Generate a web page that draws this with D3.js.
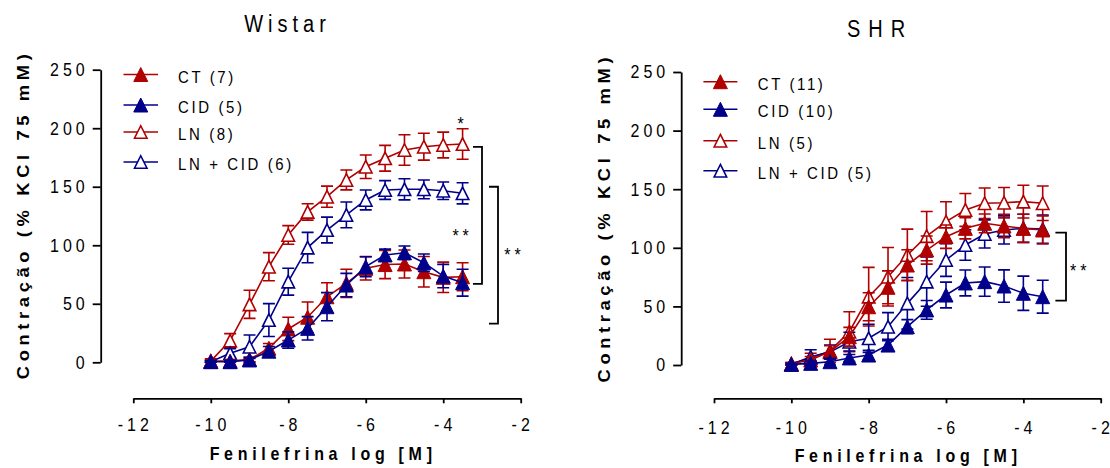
<!DOCTYPE html>
<html>
<head>
<meta charset="utf-8">
<script src="https://cdn.jsdelivr.net/npm/d3@7"></script>
<style>
  body { margin: 0; background: #fff; }
  svg { display: block; }
  text { font-family: "Liberation Sans", Arial, sans-serif; fill: #000; }
</style>
</head>
<body>
<svg id="chart" width="1110" height="468"></svg>
<script>
// ---- data -------------------------------------------------------------
const doses = [-10, -9.5, -9, -8.5, -8, -7.5, -7, -6.5, -6, -5.5, -5, -4.5, -4, -3.5];
const xTicks = [-12, -10, -8, -6, -4, -2];
const yTicks = [0, 50, 100, 150, 200, 250];

// Wistar
const wistarCT       = [1, 1, 2.5, 12, 28.5, 38.5, 56, 67.5, 80.3, 83.5, 84, 77.4, 72.6, 73.1];
const wistarCTsem    = [1, 1, 2, 4, 10, 13, 12, 12, 10, 12, 12, 13, 13, 12];
const wistarCID      = [0.5, 0.5, 2, 9.5, 19, 29, 47.5, 66, 81.7, 91.7, 93.6, 85.1, 73.7, 68];
const wistarCIDsem   = [1, 1, 2, 4, 7, 10, 12, 10, 8.5, 5, 5.8, 7.4, 10, 11.5];
const wistarLN       = [1, 18.5, 49.5, 81.7, 108.8, 128.5, 141.5, 155.8, 167.1, 174.3, 181.4, 184.2, 185.7, 186.5];
const wistarLNsem    = [2, 6, 12, 12, 8, 7, 9, 8.5, 10, 11, 13, 11.5, 11, 13];
const wistarLNCID    = [0.5, 7.7, 13.3, 36.1, 68.9, 98, 113, 125.9, 138.7, 147.2, 147.8, 147.8, 146.6, 144.4];
const wistarLNCIDsem = [1, 4, 10, 14, 11.5, 13, 11, 11, 8.5, 8, 9, 8, 7.5, 9];
const wistarLegend   = ["CT (7)", "CID (5)", "LN (8)", "LN + CID (6)"];
const wistarBracketTop    = [184, 150];
const wistarBracketBottom = [67, 33];
const wistarMarks    = ["*", "**", "**"];

// SHR
const shrCT       = [1, 4.3, 11.4, 24.1, 49.7, 66.3, 85.3, 98.1, 109.5, 116.6, 120.9, 118.6, 116.6, 115.2];
const shrCTsem    = [1, 3, 5, 8, 12, 14, 13, 12, 10, 9, 8, 10, 12, 12];
const shrCID      = [0.5, 1.4, 2.8, 6, 8.5, 17, 32.7, 47, 59.7, 70, 71.1, 67.4, 61.2, 58.3];
const shrCIDsem   = [1, 2, 3, 3, 4, 5, 6, 8, 11, 11, 12.5, 13.8, 14.6, 14];
const shrLN       = [1, 6, 12, 28.4, 58.3, 75.3, 93.9, 110, 122.3, 132.3, 138, 138.5, 139.4, 138];
const shrLNsem    = [1, 4, 10, 17, 25, 25, 22, 21, 17, 14, 13, 13, 14, 14.7];
const shrLNCID    = [0.5, 7, 11, 19.9, 22.8, 32.7, 52.6, 71.1, 89.6, 102.4, 111.8, 115.2, 116.6, 115.9];
const shrLNCIDsem = [1, 6, 6, 8, 12, 12, 22, 21, 14, 13, 12, 12, 12, 12];
const shrLegend   = ["CT (11)", "CID (10)", "LN (5)", "LN + CID (5)"];
const shrBracketTop    = [113];
const shrBracketBottom = [55];
const shrMarks    = ["**"];

// ---- style ------------------------------------------------------------
const RED = "#b00000";
const BLUE = "#00008b";
const STRETCH = 1.15;   // text is drawn slightly tall

const svg = d3.select("#chart");

// text helper: anchored at (x, y), vertically stretched
function label(parent, x, y, str, o) {
  const anchor = o.anchor || "middle";
  const ls = o.ls || 0;
  const g = parent.append("g")
    .attr("transform", `translate(${x},${y}) scale(1,${STRETCH})` + (o.rotate ? " rotate(-90)" : ""));
  const t = g.append("text")
    .attr("text-anchor", anchor)
    .attr("dy", o.dy || "0.35em")
    .attr("dx", anchor === "middle" ? ls / 2 : anchor === "end" ? ls : 0)
    .style("font-size", o.size + "px")
    .style("letter-spacing", ls + "px")
    .style("font-weight", o.bold ? "bold" : "normal")
    .text(str);
  return t;
}

const triPath = (w, h) => `M0,${-h / 2}L${w / 2},${h / 2}L${-w / 2},${h / 2}Z`;

function marker(parent, cx, cy, color, filled) {
  parent.append("path")
    .attr("d", filled ? triPath(14, 14) : triPath(12.5, 12.5))
    .attr("transform", `translate(${cx},${cy})`)
    .attr("fill", filled ? color : "#fff")
    .attr("stroke", color)
    .attr("stroke-width", filled ? 1 : 1.6)
    .attr("stroke-linejoin", "miter");
}

function drawPanel(p) {
  const g = svg.append("g");
  const x = d3.scaleLinear().domain([-12, -2]).range([p.xLeft, p.xRight]);
  const y = d3.scaleLinear().domain([0, 250]).range([p.yBottom, p.yTop]);

  // y axis
  const gy = g.append("g")
    .attr("transform", `translate(${p.axisX},0)`)
    .call(d3.axisLeft(y).tickValues(yTicks).tickSize(8).tickSizeOuter(0).tickFormat(""));
  // x axis
  const gx = g.append("g")
    .attr("transform", `translate(0,${p.xAxisY})`)
    .call(d3.axisBottom(x).tickValues(xTicks).tickSize(5).tickSizeOuter(0).tickFormat(""));
  [gy, gx].forEach(a => {
    a.select(".domain").attr("stroke", "#000").attr("stroke-width", 1.8);
    a.selectAll(".tick line").attr("stroke", "#000").attr("stroke-width", 1.8);
  });

  yTicks.forEach(v => label(g, p.axisX - 16, y(v), String(v), { size: 16, ls: 4, anchor: "end" }));
  xTicks.forEach(v => label(g, x(v), p.tickLabelY, String(v), { size: 16, ls: 4 }));

  label(g, p.xLabelX, p.xLabelY, "Fenilefrina log [M]", { size: 16, ls: 4.7, bold: true });
  label(g, p.yLabelX, p.yLabelY, "Contração (% KCl 75 mM)", { size: 16, ls: 4, bold: true, rotate: true });
  label(g, p.titleX, p.titleY, p.title, { size: 20, ls: p.titleLS });

  // series: lines, error bars, markers
  p.series.forEach(s => {
    const sg = g.append("g");
    const pts = doses.map((d, i) => ({ d, m: s.mean[i], e: s.sem[i] }));
    sg.append("path")
      .datum(pts)
      .attr("fill", "none")
      .attr("stroke", s.color)
      .attr("stroke-width", 1.6)
      .attr("d", d3.line().x(q => x(q.d)).y(q => y(q.m)));
    pts.forEach(q => {
      const cx = x(q.d), top = y(q.m + q.e), bot = y(Math.max(0, q.m - q.e));
      sg.append("path")
        .attr("d", `M${cx},${top}V${bot}M${cx - 6},${top}H${cx + 6}M${cx - 6},${bot}H${cx + 6}`)
        .attr("fill", "none")
        .attr("stroke", s.color)
        .attr("stroke-width", 1.6);
    });
    pts.forEach(q => marker(sg, x(q.d), y(q.m), s.color, s.filled));
  });

  // legend
  const lg = g.append("g");
  p.legendOrder.forEach((si, i) => {
    const s = p.series[si];
    const ry = p.legendRows[i];
    lg.append("line")
      .attr("x1", p.legendX0).attr("x2", p.legendX1)
      .attr("y1", ry).attr("y2", ry)
      .attr("stroke", s.color).attr("stroke-width", 1.6);
    marker(lg, (p.legendX0 + p.legendX1) / 2, ry, s.color, s.filled);
    label(lg, p.legendTextX, ry + 2, p.legendText[i], { size: 15, ls: 2.6, anchor: "start" });
  });

  // significance brackets
  p.bracketTop.forEach((t, i) => {
    const bx = p.bracketX[i], y0 = y(t), y1 = y(p.bracketBottom[i]);
    g.append("path")
      .attr("d", `M${bx - p.bracketArm},${y0}H${bx}V${y1}H${bx - p.bracketArm}`)
      .attr("fill", "none").attr("stroke", "#000").attr("stroke-width", 1.8);
  });
  p.marks.forEach((m, i) => {
    label(g, p.markPos[i][0], p.markPos[i][1], m, { size: 16, ls: 4, dy: "0.58em" });
  });
}

const seriesOf = (ct, ctS, cid, cidS, ln, lnS, lc, lcS) => [
  { mean: ln,  sem: lnS,  color: RED,  filled: false },
  { mean: lc,  sem: lcS,  color: BLUE, filled: false },
  { mean: ct,  sem: ctS,  color: RED,  filled: true },
  { mean: cid, sem: cidS, color: BLUE, filled: true }
];

drawPanel({
  title: "Wistar", titleX: 285, titleY: 24, titleLS: 5,
  xLeft: 133.3, xRight: 520.7, yBottom: 362.3, yTop: 69.7,
  axisX: 100.7, xAxisY: 398.3, tickLabelY: 425,
  xLabelX: 320.8, xLabelY: 453.3, yLabelX: 23.3, yLabelY: 216.7,
  series: seriesOf(wistarCT, wistarCTsem, wistarCID, wistarCIDsem, wistarLN, wistarLNsem, wistarLNCID, wistarLNCIDsem),
  legendOrder: [2, 3, 0, 1], legendText: wistarLegend,
  legendRows: [74.5, 105, 132, 162], legendX0: 123.5, legendX1: 158, legendTextX: 178,
  bracketTop: wistarBracketTop, bracketBottom: wistarBracketBottom,
  bracketX: [482, 498], bracketArm: 9,
  marks: wistarMarks, markPos: [[460.6, 119.3], [460.6, 231.7], [512.5, 250]]
});

drawPanel({
  title: "SHR", titleX: 876, titleY: 29.3, titleLS: 8,
  xLeft: 714, xRight: 1100.7, yBottom: 365, yTop: 72,
  axisX: 681.2, xAxisY: 398.3, tickLabelY: 427.3,
  xLabelX: 905.8, xLabelY: 456, yLabelX: 604, yLabelY: 220,
  series: seriesOf(shrCT, shrCTsem, shrCID, shrCIDsem, shrLN, shrLNsem, shrLNCID, shrLNCIDsem),
  legendOrder: [2, 3, 0, 1], legendText: shrLegend,
  legendRows: [81.7, 109.3, 140.7, 170.7], legendX0: 703.4, legendX1: 737.4, legendTextX: 757.8,
  bracketTop: shrBracketTop, bracketBottom: shrBracketBottom,
  bracketX: [1066], bracketArm: 10.6,
  marks: shrMarks, markPos: [[1078.3, 266.7]]
});
</script>
</body>
</html>
